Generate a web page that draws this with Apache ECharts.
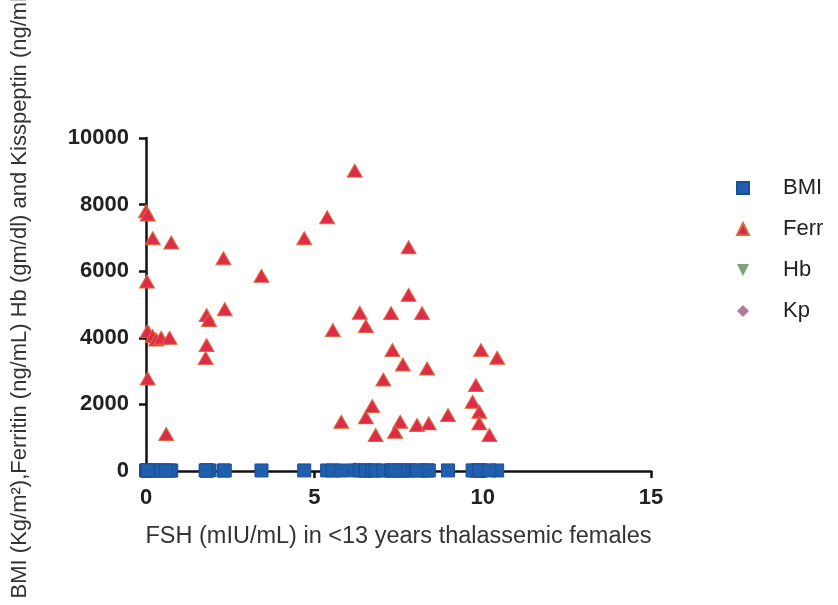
<!DOCTYPE html>
<html><head><meta charset="utf-8">
<script src="https://cdn.jsdelivr.net/npm/echarts@6/dist/echarts.min.js"></script>
<style>html,body{margin:0;padding:0;background:#fff}#c{width:838px;height:605px}</style>
</head><body><div id="c"></div>
<script>
// FSH values (x) per patient
const fsh = [0.0,0.05,0.2,0.75,0.03,2.3,3.43,4.7,5.38,6.2,
  0.05,0.2,0.3,0.45,0.7,1.8,1.87,2.34,1.8,1.77,
  0.05,0.6,5.55,6.35,6.53,5.8,6.53,6.72,6.82,7.05,
  7.8,7.8,7.28,8.2,7.32,7.63,8.35,7.55,7.4,8.05,
  8.4,8.97,9.95,10.43,9.8,9.7,9.9,9.9,10.2];
const ferr = [7800,7700,6990,6860,5690,6390,5860,6990,7620,9020,
  4200,4050,3950,4000,4000,4680,4530,4860,3780,3390,
  2780,1110,4230,4750,4350,1480,1610,1950,1080,2750,
  6720,5290,4740,4740,3630,3200,3080,1480,1180,1380,
  1430,1680,3630,3400,2580,2080,1780,1430,1080];
const bmi = [16,15,17,14,18,15,16,17,16,19,
  15,16,14,17,15,16,18,15,14,17,
  16,15,17,18,16,15,14,17,16,15,
  18,16,17,15,16,14,17,16,15,18,
  16,17,15,16,14,17,16,15,18];
const hb = [8.5,9.1,7.8,8.2,9.4,8.8,7.6,9.0,8.3,8.7,
  9.2,8.1,7.9,8.6,9.3,8.4,7.7,8.9,9.0,8.2,
  8.5,9.1,7.8,8.2,9.4,8.8,7.6,9.0,8.3,8.7,
  9.2,8.1,7.9,8.6,9.3,8.4,7.7,8.9,9.0,8.2,
  8.5,9.1,7.8,8.2,9.4,8.8,7.6,9.0,8.3];
const kp = [2.1,1.8,2.5,1.6,2.0,2.3,1.9,2.2,1.7,90,
  2.4,1.5,2.0,1.9,2.2,1.8,2.6,2.1,1.7,2.0,
  2.3,1.9,2.2,1.6,2.5,2.0,1.8,2.1,2.4,1.9,
  2.2,1.7,2.0,2.3,1.8,2.1,1.9,2.2,2.0,1.6,
  2.4,2.1,1.8,2.0,2.3,1.9,2.2,1.7,2.0];
const xTicks = [0,5,10,15];
const yTicks = [0,2000,4000,6000,8000,10000];
const yTitle = 'BMI (Kg/m²),Ferritin (ng/mL) Hb (gm/dl) and Kisspeptin (ng/ml)';
const xTitle = 'FSH (mIU/mL) in <13 years thalassemic females';

const pts = ys => fsh.map((x,i)=>[x, ys[i]]);
const chart = echarts.init(document.getElementById('c'));
const FF = 'Liberation Sans, Arial, sans-serif';
const tickFont = {fontFamily:FF, fontWeight:'bold', fontSize:22, color:'#222'};
chart.setOption({
  animation:false,
  backgroundColor:'#fff',
  grid:{left:146, right:187, top:138, bottom:134},
  graphic:[{type:'text', rotation:Math.PI/2, x:20, y:294,
    style:{text:yTitle, font:'22px '+FF, fill:'#333', textAlign:'center', textVerticalAlign:'middle'}}],
  xAxis:{type:'value', min:xTicks[0], max:xTicks[xTicks.length-1], interval:5,
    name:xTitle, nameLocation:'middle', nameGap:54,
    nameTextStyle:{fontFamily:FF, fontSize:23.5, color:'#333'},
    axisLine:{lineStyle:{color:'#111', width:2.5}},
    axisTick:{length:7, lineStyle:{color:'#111', width:2.5}},
    axisLabel:{...tickFont, margin:16, formatter:v=>String(v)},
    splitLine:{show:false}},
  yAxis:{type:'value', min:yTicks[0], max:yTicks[yTicks.length-1], interval:2000,
    axisLine:{show:true, lineStyle:{color:'#111', width:2.5}},
    axisTick:{show:true, length:7, lineStyle:{color:'#111', width:2.5}},
    axisLabel:{...tickFont, margin:17, formatter:v=>String(v)},
    splitLine:{show:false}},
  legend:{orient:'vertical', left:731, top:172, itemGap:19, itemWidth:12, itemHeight:12,
    textStyle:{fontFamily:FF, fontSize:22, color:'#222', padding:[0,0,0,29]},
    data:[
      {name:'BMI', icon:'rect', itemStyle:{color:'#1f5fae'}},
      {name:'Ferr', icon:'triangle', itemStyle:{color:'#d22a55'}},
      {name:'Hb', icon:'path://M0,0L10,0L5,10Z', itemStyle:{color:'#5e8a5a'}},
      {name:'Kp', icon:'diamond', itemStyle:{color:'#a05a80'}}
    ]},
  series:[
    {name:'Ferr', type:'scatter', symbol:'triangle', symbolSize:[15,13], data:pts(ferr),
      itemStyle:{color:'#dc2c48', borderColor:'#e0683c', borderWidth:1, opacity:1}, z:3},
    {name:'Hb', type:'scatter', symbol:'triangle', symbolRotate:180, symbolSize:12, data:pts(hb),
      itemStyle:{color:'#5e8a5a'}, z:2},
    {name:'Kp', type:'scatter', symbol:'diamond', symbolSize:12, data:pts(kp),
      itemStyle:{color:'#a05a80'}, z:2},
    {name:'BMI', type:'scatter', symbol:'rect', symbolSize:13, data:pts(bmi),
      itemStyle:{color:'#1f5fae', borderColor:'#1a4f96', borderWidth:1, opacity:1}, z:4}
  ]
});
</script></body></html>
